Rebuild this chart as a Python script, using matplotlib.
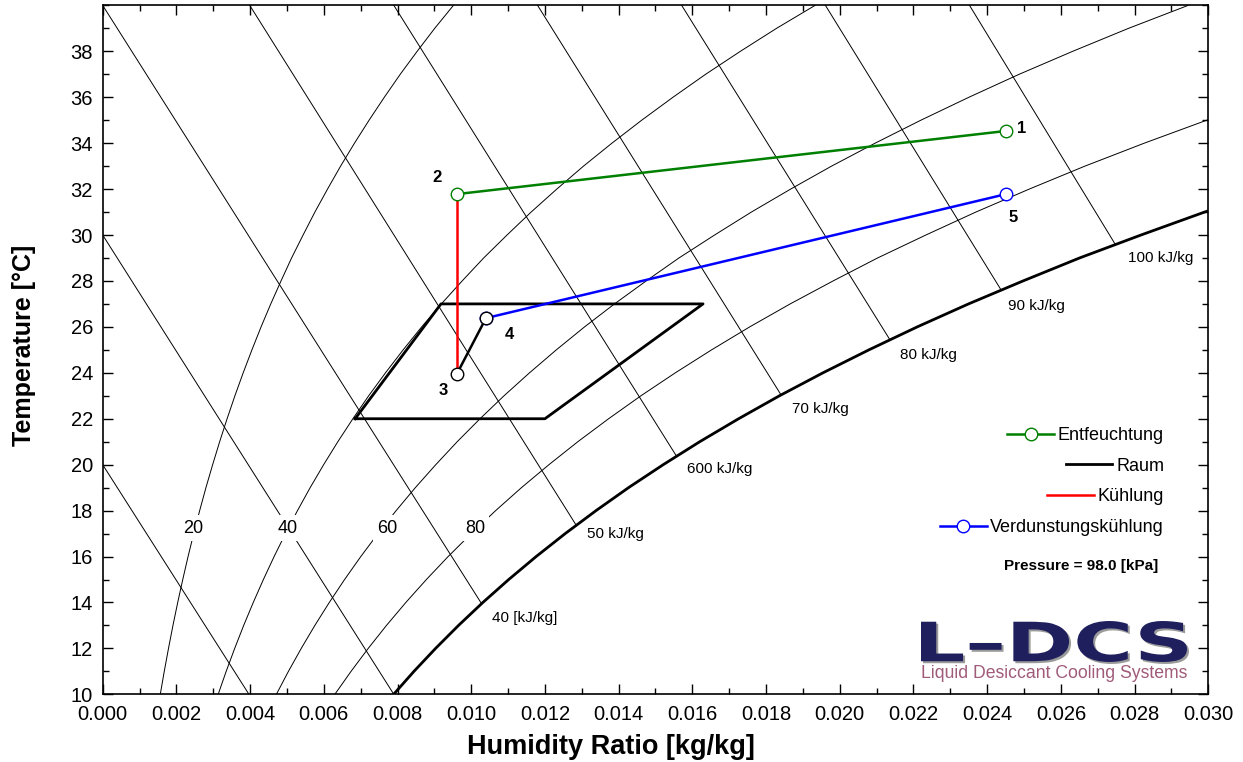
import numpy as np
import matplotlib
matplotlib.use("Agg")
import matplotlib.pyplot as plt
from matplotlib.ticker import MultipleLocator, FormatStrFormatter
from matplotlib.textpath import TextPath
from matplotlib.patches import PathPatch
from matplotlib.font_manager import FontProperties
from matplotlib.transforms import Affine2D

plt.rcParams['font.family'] = ['Liberation Sans', 'DejaVu Sans']

# --- background chart lines, temperature 10..40 degC ---
rh_temp = list(range(10, 41))
rh20_w = [0.001563, 0.001671, 0.001786, 0.001907, 0.002036, 0.002173, 0.002317, 0.002470,
          0.002632, 0.002802, 0.002984, 0.003174, 0.003376, 0.003588, 0.003813, 0.004050,
          0.004298, 0.004561, 0.004839, 0.005126, 0.005438, 0.005759, 0.006101, 0.006456,
          0.006833, 0.007229, 0.007643, 0.008075, 0.008534, 0.009010, 0.009518]
rh40_w = [0.003134, 0.003351, 0.003582, 0.003826, 0.004086, 0.004361, 0.004652, 0.004960,
          0.005286, 0.005630, 0.005996, 0.006381, 0.006789, 0.007218, 0.007674, 0.008153,
          0.008656, 0.009190, 0.009754, 0.010338, 0.010972, 0.011626, 0.012322, 0.013047,
          0.013819, 0.014627, 0.015476, 0.016362, 0.017305, 0.018286, 0.019332]
rh60_w = [0.004713, 0.005040, 0.005388, 0.005757, 0.006149, 0.006564, 0.007004, 0.007470,
          0.007963, 0.008484, 0.009038, 0.009620, 0.010239, 0.010890, 0.011582, 0.012310,
          0.013076, 0.013887, 0.014747, 0.015637, 0.016604, 0.017603, 0.018668, 0.019778,
          0.020961, 0.022202, 0.023507, 0.024870, 0.026323, 0.027838, 0.029456]
rh80_w = [0.006299, 0.006739, 0.007205, 0.007700, 0.008226, 0.008784, 0.009374, 0.010001,
          0.010663, 0.011363, 0.012109, 0.012893, 0.013728, 0.014605, 0.015539, 0.016523,
          0.017557, 0.018655, 0.019819, 0.021026, 0.022337, 0.023694, 0.025142, 0.026653,
          0.028265, 0.029959, 0.031742]
sat_w = [0.007894, 0.008446, 0.009033, 0.009655, 0.010316, 0.011018, 0.011762, 0.012551,
         0.013387, 0.014269, 0.015210, 0.016201, 0.017255, 0.018364, 0.019545, 0.020792,
         0.022103, 0.023494, 0.024973, 0.026506, 0.028174, 0.029900, 0.031748]

rh_labels = ['20', '40', '60', '80']
rh_label_w = [0.002456, 0.005028, 0.007715, 0.010102]
rh_label_t = [17.24, 17.24, 17.24, 17.24]

# enthalpy lines: start point -> end point on saturation
h_w0 = [0.0, 0.0, 0.0, 0.00399, 0.00790, 0.01180, 0.01571, 0.01961, 0.02352]
h_t0 = [20, 30, 40, 40, 40, 40, 40, 40, 40]
h_w1 = [0.00397, 0.00790, 0.01028, 0.01285, 0.01557, 0.01841, 0.02136, 0.02438, 0.02748]
h_t1 = [10, 10, 13.95, 17.36, 20.37, 23.03, 25.44, 27.60, 29.58]

h_labels = ['40 [kJ/kg]', '50 kJ/kg', '600 kJ/kg', '70 kJ/kg', '80 kJ/kg', '90 kJ/kg', '100 kJ/kg']
h_label_w = [0.010555, 0.013133, 0.015847, 0.018696, 0.021635, 0.024566, 0.027822]
h_label_t = [13.31, 16.97, 19.81, 22.41, 24.77, 26.90, 28.99]

# --- process states ---
pt_names = ['1', '2', '3', '4', '5']
pt_w = [0.02451, 0.00961, 0.00961, 0.01040, 0.02451]
pt_t = [34.53, 31.78, 23.95, 26.38, 31.78]

room_w = [0.00685, 0.01200, 0.01629, 0.00918, 0.00685]
room_t = [22, 22, 27, 27, 22]

fig = plt.figure(figsize=(12.43, 7.62), dpi=100)
ax = fig.add_axes([0.0826, 0.0888, 0.8895, 0.9042])

thin = dict(color='black', lw=0.7, zorder=1)
ax.plot(rh20_w, rh_temp, **thin)
ax.plot(rh40_w, rh_temp, **thin)
ax.plot(rh60_w, rh_temp, **thin)
ax.plot(rh80_w, rh_temp[:len(rh80_w)], **thin)
ax.plot(sat_w, rh_temp[:len(sat_w)], color='black', lw=2.0, zorder=1)
for i in range(len(h_w0)):
    ax.plot([h_w0[i], h_w1[i]], [h_t0[i], h_t1[i]], **thin)

for lab, w, t in zip(rh_labels, rh_label_w, rh_label_t):
    ax.text(w, t, lab, ha='center', va='center', fontsize=13, zorder=2,
            bbox=dict(fc='white', ec='none', pad=3))
for lab, w, t in zip(h_labels, h_label_w, h_label_t):
    ax.text(w, t, lab, ha='left', va='center', fontsize=11, zorder=2)

# process lines
mk = dict(marker='o', ms=9, mfc='white', mew=1.0)
l_room, = ax.plot(room_w, room_t, color='black', lw=2.0, label='Raum', zorder=3)
l_cool, = ax.plot(pt_w[1:3], pt_t[1:3], color='red', lw=1.8, label='Kühlung', zorder=4)
l_dehum, = ax.plot(pt_w[0:2], pt_t[0:2], color='green', lw=1.8, mec='green',
                   label='Entfeuchtung', zorder=5, **mk)
l_evap, = ax.plot(pt_w[3:5], pt_t[3:5], color='blue', lw=1.8, mec='blue',
                  label='Verdunstungskühlung', zorder=5, **mk)
ax.plot(pt_w[2:4], pt_t[2:4], color='black', lw=1.8, mec='black', zorder=6, **mk)

offsets = [(11, 2), (-14, 12), (-10, -12), (17, -12), (5, -17)]
for name, w, t, off in zip(pt_names, pt_w, pt_t, offsets):
    ax.annotate(name, (w, t), xytext=off, textcoords='offset points',
                ha='center', va='center', fontsize=12, fontweight='bold', zorder=7)

leg = ax.legend(handles=[l_dehum, l_room, l_cool, l_evap], loc='upper right',
                bbox_to_anchor=(0.960, 0.388), frameon=False, fontsize=13,
                handlelength=2.6, handletextpad=0.2, labelspacing=0.76,
                borderpad=0, borderaxespad=0, numpoints=1)
for col in leg._legend_handle_box.get_children():
    col.align = 'right'

ax.text(0.8152, 0.1862, 'Pressure = 98.0 [kPa]', transform=ax.transAxes,
        ha='left', va='center', fontsize=11, fontweight='bold')

# axes
ax.set_xlim(0, 0.030)
ax.set_ylim(10, 40)
ax.xaxis.set_major_locator(MultipleLocator(0.002))
ax.xaxis.set_minor_locator(MultipleLocator(0.001))
ax.xaxis.set_major_formatter(FormatStrFormatter('%.3f'))
ax.set_yticks(np.arange(10, 39, 2))
ax.yaxis.set_minor_locator(MultipleLocator(1))
ax.tick_params(which='both', direction='in', top=True, right=True, width=1)
ax.tick_params(which='major', length=7, labelsize=14.5)
ax.tick_params(axis='x', which='major', pad=8)
ax.tick_params(axis='y', which='major', pad=7)
ax.tick_params(which='minor', length=4)
for s in ax.spines.values():
    s.set_linewidth(1.2)

ax.set_xlabel('Humidity Ratio [kg/kg]', fontsize=19.5, fontweight='bold')
ax.xaxis.set_label_coords(0.4597, -0.058)
ax.set_ylabel('Temperature [°C]', fontsize=18, fontweight='bold')
ax.yaxis.set_label_coords(-0.060, 0.507)

# logo
W, H = 1243.0, 762.0
tp = TextPath((0, 0), 'L–DCS', size=1, prop=FontProperties(family='DejaVu Sans', weight='bold'))
ext = tp.get_extents()
x0, x1 = 921 / W, 1187 / W
y0, y1 = (H - 662) / H, (H - 621) / H
base = Affine2D().translate(-ext.x0, -ext.y0).scale((x1 - x0) / ext.width, (y1 - y0) / ext.height)
shadow = PathPatch((base + Affine2D().translate(x0 + 2 / W, y0 - 2 / H)).transform_path(tp),
                   transform=fig.transFigure, fc='#9a9a9a', ec='none', zorder=8)
logo = PathPatch((base + Affine2D().translate(x0, y0)).transform_path(tp),
                 transform=fig.transFigure, fc='#1f1f5e', ec='none', zorder=9)
fig.add_artist(shadow)
fig.add_artist(logo)
fig.text(921 / W, (H - 673) / H, 'Liquid Desiccant Cooling Systems', ha='left', va='center',
         fontsize=12.7, color='#a05a7a')

fig.savefig('out.png', dpi=100)
